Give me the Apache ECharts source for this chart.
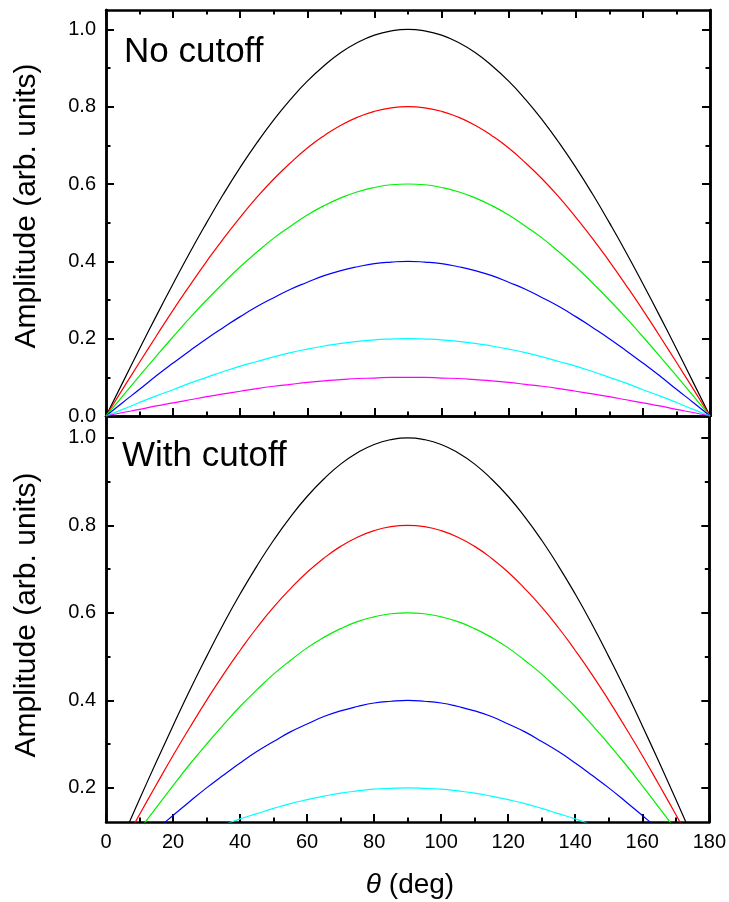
<!DOCTYPE html>
<html>
<head>
<meta charset="utf-8">
<script src="https://cdn.jsdelivr.net/npm/echarts@6/dist/echarts.min.js"></script>
<style>
  html, body { margin: 0; padding: 0; background: #fff; }
  #chart { width: 729px; height: 902px; }
</style>
</head>
<body>
<div id="chart"></div>
<script>
// Scattering angle (deg), sampled every 5 degrees
const theta = [0,5,10,15,20,25,30,35,40,45,50,55,60,65,70,75,80,85,90,95,100,105,110,115,120,125,130,135,140,145,150,155,160,165,170,175,180];

// Amplitude curves (arb. units), one per peak level
const amp100 = [0,0.087,0.174,0.259,0.342,0.423,0.5,0.574,0.643,0.707,0.766,0.819,0.866,0.906,0.94,0.966,0.985,0.996,1.0,0.996,0.985,0.966,0.94,0.906,0.866,0.819,0.766,0.707,0.643,0.574,0.5,0.423,0.342,0.259,0.174,0.087,0];
const amp80 = [0,0.07,0.139,0.207,0.274,0.338,0.4,0.459,0.514,0.566,0.613,0.655,0.693,0.725,0.752,0.773,0.788,0.797,0.8,0.797,0.788,0.773,0.752,0.725,0.693,0.655,0.613,0.566,0.514,0.459,0.4,0.338,0.274,0.207,0.139,0.07,0];
const amp60 = [0,0.052,0.104,0.155,0.205,0.254,0.3,0.344,0.386,0.424,0.46,0.491,0.52,0.544,0.564,0.58,0.591,0.598,0.6,0.598,0.591,0.58,0.564,0.544,0.52,0.491,0.46,0.424,0.386,0.344,0.3,0.254,0.205,0.155,0.104,0.052,0];
const amp40 = [0,0.035,0.069,0.104,0.137,0.169,0.2,0.229,0.257,0.283,0.306,0.328,0.346,0.363,0.376,0.386,0.394,0.398,0.4,0.398,0.394,0.386,0.376,0.363,0.346,0.328,0.306,0.283,0.257,0.229,0.2,0.169,0.137,0.104,0.069,0.035,0];
const amp20 = [0,0.017,0.035,0.052,0.068,0.085,0.1,0.115,0.129,0.141,0.153,0.164,0.173,0.181,0.188,0.193,0.197,0.199,0.2,0.199,0.197,0.193,0.188,0.181,0.173,0.164,0.153,0.141,0.129,0.115,0.1,0.085,0.068,0.052,0.035,0.017,0];
const amp10 = [0,0.009,0.017,0.026,0.034,0.042,0.05,0.057,0.064,0.071,0.077,0.082,0.087,0.091,0.094,0.097,0.098,0.1,0.1,0.1,0.098,0.097,0.094,0.091,0.087,0.082,0.077,0.071,0.064,0.057,0.05,0.042,0.034,0.026,0.017,0.009,0];

// Tick positions
const xTicks = [0,20,40,60,80,100,120,140,160,180];
const yTopMajor = [0,0.2,0.4,0.6,0.8,1.0];
const yTopMinor = [0.1,0.3,0.5,0.7,0.9];
const yBotMajor = [0.2,0.4,0.6,0.8,1.0];
const yBotMinor = [0.3,0.5,0.7,0.9];

// Panel titles
const panelTitles = ['No cutoff', 'With cutoff'];

const curves = [
  { data: amp100, color: '#000000' },
  { data: amp80,  color: '#ff0000' },
  { data: amp60,  color: '#00f000' },
  { data: amp40,  color: '#0000ff' },
  { data: amp20,  color: '#00ffff' },
  { data: amp10,  color: '#ff00ff' }
];

const FONT = "'Liberation Sans', Arial, sans-serif";
const AXIS_W = 2.5;

function xAxisDef(gridIndex, position, showLabels, showTicks) {
  return {
    type: 'value', gridIndex, position, min: 0, max: 180, interval: 20,
    axisLine: { show: true, onZero: false, lineStyle: { color: '#000', width: AXIS_W } },
    axisTick: { show: showTicks, inside: true, length: 8, lineStyle: { color: '#000', width: 2 } },
    minorTick: { show: showTicks, splitNumber: 2, length: 4.5, lineStyle: { color: '#000', width: 2 } },
    axisLabel: { show: showLabels, color: '#000', fontFamily: FONT, fontSize: 20, margin: 10 },
    splitLine: { show: false }, minorSplitLine: { show: false }
  };
}

function yAxisDef(gridIndex, position, min, max, values, len, showLabels) {
  return {
    type: 'value', gridIndex, position, min, max,
    axisLine: { show: true, onZero: false, lineStyle: { color: '#000', width: AXIS_W } },
    axisTick: { show: true, inside: true, length: len, customValues: values, lineStyle: { color: '#000', width: 2 } },
    axisLabel: {
      show: showLabels, customValues: values, color: '#000', fontFamily: FONT, fontSize: 20, margin: 10,
      formatter: v => Number(v).toFixed(1)
    },
    splitLine: { show: false }
  };
}

const TOP_MIN = 0, TOP_MAX = 1.05;
const BOT_MIN = 0.122, BOT_MAX = 1.05;

const series = [];
[0, 1].forEach(panel => {
  curves.forEach(c => {
    series.push({
      type: 'line',
      xAxisIndex: panel === 0 ? 0 : 2,
      yAxisIndex: panel === 0 ? 0 : 4,
      data: theta.map((t, i) => [t, c.data[i]]),
      showSymbol: false,
      smooth: true,
      clip: true,
      lineStyle: { color: c.color, width: 1.2 },
      silent: true
    });
  });
});

const option = {
  backgroundColor: '#ffffff',
  animation: false,
  grid: [
    { left: 106, top: 10, width: 604, height: 406, containLabel: false },
    { left: 106, top: 416, width: 604, height: 406, containLabel: false }
  ],
  xAxis: [
    xAxisDef(0, 'bottom', false, true),
    xAxisDef(0, 'top', false, true),
    xAxisDef(1, 'bottom', true, true),
    xAxisDef(1, 'top', false, false)
  ],
  yAxis: [
    yAxisDef(0, 'left', TOP_MIN, TOP_MAX, yTopMajor, 8, true),
    yAxisDef(0, 'left', TOP_MIN, TOP_MAX, yTopMinor, 4.5, false),
    yAxisDef(0, 'right', TOP_MIN, TOP_MAX, yTopMajor, 8, false),
    yAxisDef(0, 'right', TOP_MIN, TOP_MAX, yTopMinor, 4.5, false),
    yAxisDef(1, 'left', BOT_MIN, BOT_MAX, yBotMajor, 8, true),
    yAxisDef(1, 'left', BOT_MIN, BOT_MAX, yBotMinor, 4.5, false),
    yAxisDef(1, 'right', BOT_MIN, BOT_MAX, yBotMajor, 8, false),
    yAxisDef(1, 'right', BOT_MIN, BOT_MAX, yBotMinor, 4.5, false)
  ],
  series,
  graphic: [
    { type: 'text', x: 124, y: 52, style: { text: panelTitles[0], font: '35px ' + FONT, fill: '#000', textVerticalAlign: 'middle' } },
    { type: 'text', x: 122, y: 456, style: { text: panelTitles[1], font: '35px ' + FONT, fill: '#000', textVerticalAlign: 'middle' } },
    { type: 'text', x: 27, y: 206, rotation: Math.PI / 2,
      style: { text: 'Amplitude (arb. units)', font: '30px ' + FONT, fill: '#000', textAlign: 'center', textVerticalAlign: 'middle' } },
    { type: 'text', x: 27, y: 615, rotation: Math.PI / 2,
      style: { text: 'Amplitude (arb. units)', font: '30px ' + FONT, fill: '#000', textAlign: 'center', textVerticalAlign: 'middle' } },
    { type: 'text', x: 410, y: 885,
      style: {
        text: '{i|θ} (deg)', fill: '#000', font: '28px ' + FONT, textAlign: 'center', textVerticalAlign: 'middle',
        rich: { i: { fontStyle: 'italic', fontFamily: FONT, fontSize: 28, fill: '#000' } }
      } }
  ]
};

const chart = echarts.init(document.getElementById('chart'), null, { renderer: 'canvas' });
chart.setOption(option);
</script>
</body>
</html>
